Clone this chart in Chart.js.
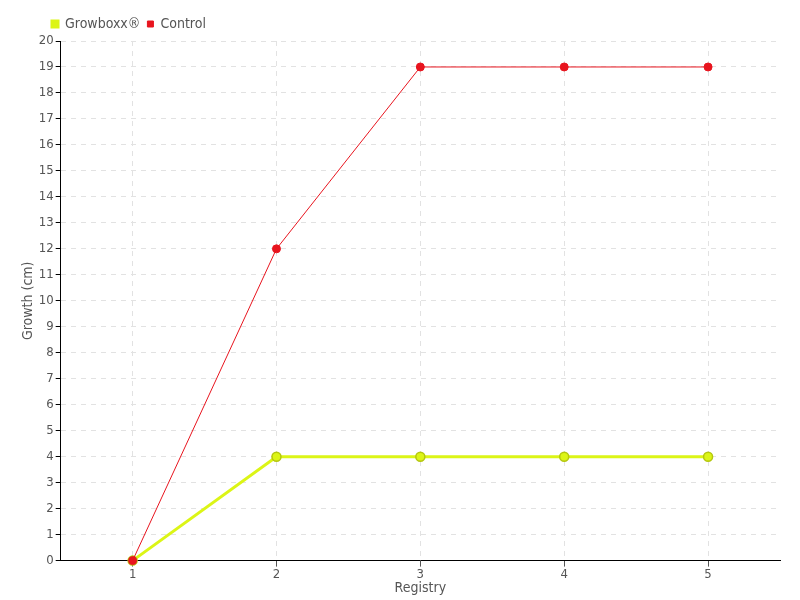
<!DOCTYPE html>
<html>
<head>
<meta charset="utf-8">
<script src="https://cdn.jsdelivr.net/npm/chart.js@4"></script>
<style>
  html, body { margin: 0; padding: 0; background: #fff; }
  #wrap { width: 800px; height: 600px; }
</style>
</head>
<body>
<div id="wrap"><canvas id="myChart" width="800" height="600"></canvas></div>
<script>
const registries = ['1', '2', '3', '4', '5'];
const growboxx = [0, 4, 4, 4, 4];
const control = [0, 12, 19, 19, 19];

const growColor = '#dcf516';
const growBorder = '#b5c70e';
const controlColor = '#e8141e';
const textColor = '#555555';
const fontFamily = '"DejaVu Sans Condensed", "Liberation Sans", sans-serif';

Chart.defaults.font.family = fontFamily;
Chart.defaults.font.size = 13;
Chart.defaults.color = textColor;

const config = {
    type: 'line',
    data: {
        labels: registries,
        datasets: [
            {
                label: 'Control',
                data: control,
                borderColor: controlColor,
                backgroundColor: controlColor,
                borderWidth: 1,
                pointRadius: 4,
                pointBorderWidth: 1,
                pointBorderColor: controlColor,
                pointBackgroundColor: controlColor,
                tension: 0,
                clip: false
            },
            {
                label: 'Growboxx®',
                data: growboxx,
                borderColor: growColor,
                backgroundColor: growColor,
                borderWidth: 3,
                pointRadius: 4.5,
                pointBorderWidth: 1.5,
                pointBorderColor: growBorder,
                pointBackgroundColor: growColor,
                tension: 0,
                clip: false
            }
        ]
    },
    options: {
        responsive: false,
        animation: false,
        layout: { padding: { top: 10, right: 20, left: 20, bottom: 3 } },
        plugins: {
            tooltip: { enabled: false },
            legend: {
                position: 'top',
                align: 'start',
                reverse: true,
                labels: {
                    boxWidth: 6,
                    boxHeight: 6,
                    padding: 7,
                    color: textColor,
                    font: { size: 14 }
                }
            }
        },
        scales: {
            x: {
                offset: true,
                grid: {
                    offset: false,
                    color: '#e2e2e2',
                    tickColor: '#555',
                    tickLength: 6
                },
                border: { display: true, color: '#000', width: 1, dash: [5, 5] },
                ticks: { padding: 0, color: textColor, font: { size: 13 } },
                title: { display: true, text: 'Registry', padding: { top: -2, bottom: 0 }, color: textColor, font: { size: 14 } }
            },
            y: {
                min: 0,
                max: 20,
                grid: {
                    color: '#e2e2e2',
                    tickColor: '#000',
                    tickLength: 5
                },
                border: { display: true, color: '#000', width: 1, dash: [5, 5] },
                ticks: { stepSize: 1, padding: 2, color: textColor, font: { size: 13 } },
                title: { display: true, text: 'Growth (cm)', padding: 0, color: textColor, font: { size: 14 } }
            }
        }
    },
    plugins: [{
        // legend should begin near the plot's left edge, as in the original
        id: 'legendShift',
        afterLayout(chart) {
            const lg = chart.legend;
            const dx = 45 - lg.left;
            lg.left += dx; lg.right += dx;
            lg.legendHitBoxes.forEach(b => { b.left += dx; });
        }
    }]
};

const myChart = new Chart(document.getElementById('myChart'), config);
</script>
</body>
</html>
